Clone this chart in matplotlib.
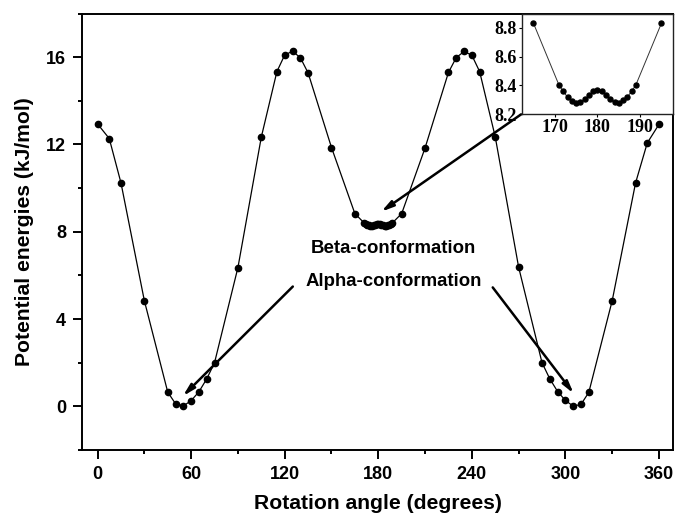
import matplotlib
matplotlib.use("Agg")
import matplotlib.pyplot as plt
from matplotlib.ticker import MultipleLocator

plt.rcParams['font.family'] = ['Liberation Sans', 'DejaVu Sans']
plt.rcParams['font.weight'] = 'bold'

# dihedral scan: angle (deg) vs relative energy (kJ/mol)
angle = [0, 7.5, 15, 30, 45, 50, 55, 60, 65, 70, 75, 90, 105, 115, 120, 125,
         130, 135, 150, 165,
         171, 172, 173, 174, 175, 176, 177, 178, 179, 180,
         181, 182, 183, 184, 185, 186, 187, 188, 189,
         195, 210, 225, 230, 235, 240, 245, 255, 270, 285, 290, 295, 300,
         305, 310, 315, 330, 345, 352.5, 360]
energy = [12.94, 12.27, 10.24, 4.84, 0.65, 0.12, 0.02, 0.26, 0.67, 1.26, 2.00,
          6.36, 12.34, 15.34, 16.10, 16.27, 15.98, 15.28, 11.86, 8.832,
          8.400, 8.358, 8.316, 8.292, 8.278, 8.283, 8.302, 8.330, 8.358, 8.367,
          8.360, 8.330, 8.302, 8.283, 8.278, 8.295, 8.318, 8.358, 8.402,
          8.832, 11.84, 15.30, 15.98, 16.26, 16.09, 15.34, 12.35, 6.38, 2.00,
          1.26, 0.68, 0.27, 0.01, 0.09, 0.64, 4.84, 10.24, 12.07, 12.92]

# zoomed window around the beta minimum
zoom_lo, zoom_hi = 165, 195

fig = plt.figure(figsize=(6.77, 5.14), dpi=100)
ax = fig.add_axes([0.1211, 0.1245, 0.8730, 0.8492])

ax.plot(angle, energy, color='black', lw=0.9, marker='o', ms=4.5,
        mfc='black', mec='black')

ax.set_xlim(-10, 369)
ax.set_ylim(-2, 18)
ax.xaxis.set_major_locator(MultipleLocator(60))
ax.xaxis.set_minor_locator(MultipleLocator(30))
ax.yaxis.set_major_locator(MultipleLocator(4))
ax.yaxis.set_minor_locator(MultipleLocator(2))
ax.tick_params(which='both', direction='out', width=1.4, labelsize=13,
               top=False, right=False)
ax.tick_params(which='major', length=6.5, pad=5)
ax.tick_params(which='minor', length=3.2)
for s in ax.spines.values():
    s.set_linewidth(1.4)

ax.set_xlabel('Rotation angle (degrees)', fontsize=15.2, fontweight='bold',
              labelpad=8)
ax.set_ylabel('Potential energies (kJ/mol)', fontsize=15.2, fontweight='bold',
              labelpad=9)

ax.text(189.7, 7.25, 'Beta-conformation', fontsize=13.4, fontweight='bold',
        ha='center', va='center')
ax.text(189.7, 5.72, 'Alpha-conformation', fontsize=13.4, fontweight='bold',
        ha='center', va='center')

arrow = dict(arrowstyle='-|>,head_length=0.7,head_width=0.18',
             color='black', lw=1.8, shrinkA=0, shrinkB=0)
ax.annotate('', xy=(181.9, 8.92), xytext=(271.6, 13.38), arrowprops=arrow)
ax.annotate('', xy=(54.7, 0.47), xytext=(125.2, 5.49), arrowprops=arrow)
ax.annotate('', xy=(305.3, 0.59), xytext=(253.4, 5.45), arrowprops=arrow)

# inset
ins = fig.add_axes([0.771, 0.7782, 0.223, 0.1955])
sel = [i for i, a in enumerate(angle) if zoom_lo <= a <= zoom_hi]
ins.plot([angle[i] for i in sel], [energy[i] for i in sel], color='#333333',
         lw=0.7, marker='o', ms=3.6, mfc='black', mec='black')
ins.set_xlim(162.3, 197.7)
ins.set_ylim(8.2, 8.9)
ins.set_xticks([170, 180, 190])
ins.set_yticks([8.2, 8.4, 8.6, 8.8])
ins.set_yticklabels(['8.2', '8.4', '8.6', '8.8'])
ins.tick_params(direction='out', length=2, width=0.8, labelsize=13, pad=1.5,
                top=False, right=False)
for lab in ins.get_xticklabels() + ins.get_yticklabels():
    lab.set_family(['Liberation Serif', 'DejaVu Serif'])
    lab.set_fontweight('bold')
for s in ins.spines.values():
    s.set_linewidth(1.0)
    s.set_color('#222222')

fig.savefig('out.png', dpi=100)
